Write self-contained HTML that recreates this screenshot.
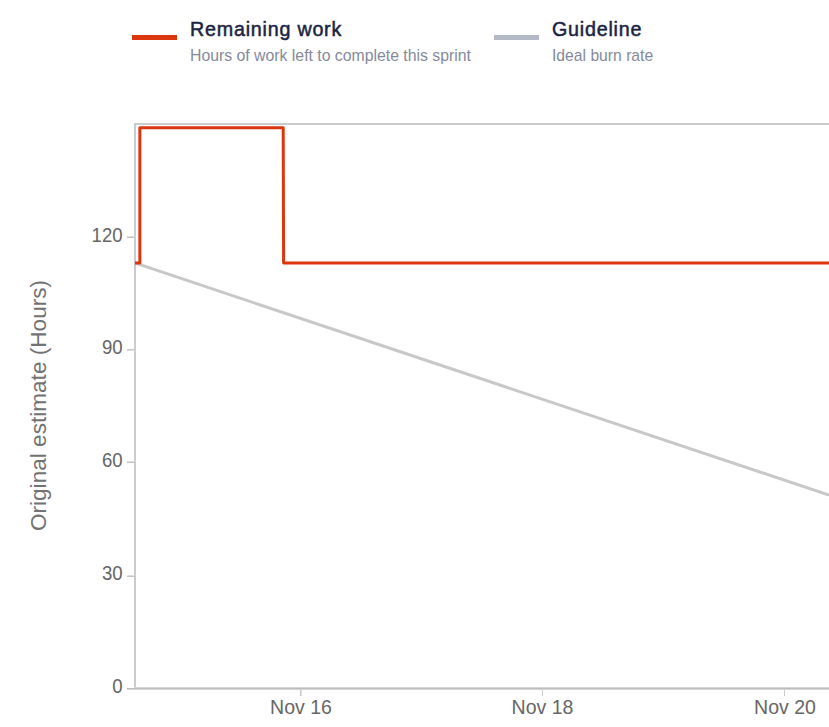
<!DOCTYPE html>
<html><head><meta charset="utf-8">
<style>
html,body{margin:0;padding:0;background:#fff;width:829px;height:727px;overflow:hidden;}
svg{display:block;}
text{font-family:"Liberation Sans",sans-serif;}
</style></head>
<body>
<svg width="829" height="727" viewBox="0 0 829 727">
<defs><clipPath id="pc"><rect x="135" y="110" width="700" height="580"/></clipPath></defs>
<!-- legend -->
<rect x="132" y="35" width="45" height="5" fill="#dc360e"/>
<text x="190" y="35.5" font-size="19.7" fill="#1a2442" stroke="#1a2442" stroke-width="0.5" letter-spacing="0.78">Remaining work</text>
<text x="190" y="61" font-size="15.8" fill="#858a9b">Hours of work left to complete this sprint</text>
<rect x="494" y="35" width="45" height="5" fill="#b3b9c5"/>
<text x="552" y="35.5" font-size="19.7" fill="#1a2442" stroke="#1a2442" stroke-width="0.5" letter-spacing="0.78">Guideline</text>
<text x="552" y="61" font-size="15.7" fill="#858a9b">Ideal burn rate</text>
<!-- axes -->
<g fill="#cbcbcb">
<rect x="134" y="123" width="695" height="2"/>
<rect x="134" y="123" width="2" height="566"/>
<rect x="134" y="687" width="695" height="3" fill="#d6d6d6"/>
<rect x="127" y="688" width="702" height="1" fill="#bdbdbd"/>
<rect x="127" y="689" width="7" height="1" fill="#d6d6d6"/>
<rect x="127" y="236" width="8" height="1" fill="#dedede"/>
<rect x="127" y="237" width="8" height="1" fill="#c4c4c4"/>
<rect x="127" y="349" width="8" height="1" fill="#c4c4c4"/>
<rect x="127" y="350" width="8" height="1" fill="#dedede"/>
<rect x="127" y="461" width="8" height="1" fill="#dedede"/>
<rect x="127" y="462" width="8" height="1" fill="#c4c4c4"/>
<rect x="127" y="575" width="8" height="1" fill="#dedede"/>
<rect x="127" y="576" width="8" height="1" fill="#c4c4c4"/>
<rect x="300" y="690" width="1" height="6" fill="#c4c4c4"/><rect x="301" y="690" width="1" height="6" fill="#e2e2e2"/>
<rect x="542" y="690" width="1" height="6"/>
<rect x="784" y="690" width="1" height="6"/>
</g>
<g font-size="19.8" fill="#666" text-anchor="end">
<text transform="translate(122.6,242) scale(0.94,1)">120</text>
<text transform="translate(122.6,354) scale(0.94,1)">90</text>
<text transform="translate(122.6,467) scale(0.94,1)">60</text>
<text transform="translate(122.6,580) scale(0.94,1)">30</text>
<text transform="translate(122.6,693) scale(0.94,1)">0</text>
</g>
<g font-size="19.5" fill="#666" text-anchor="middle">
<text x="301" y="714">Nov 16</text>
<text x="542.5" y="714">Nov 18</text>
<text x="785" y="714">Nov 20</text>
</g>
<text transform="translate(46,405.5) rotate(-90)" font-size="22.6" fill="#727272" text-anchor="middle">Original estimate (Hours)</text>
<!-- series -->
<g clip-path="url(#pc)">
<path d="M135,263 L829,495.1" stroke="#c8c8c8" stroke-width="3" fill="none"/>
<path d="M130,263 L139.85,263 L139.85,127.7 L283.2,127.7 L283.6,263 L835,263" stroke="#dc360e" stroke-width="3" fill="none" stroke-linejoin="round"/>
</g>
</svg>
</body></html>
